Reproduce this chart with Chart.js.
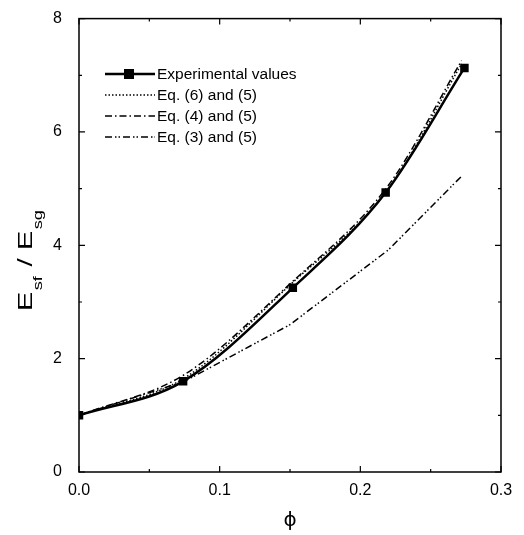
<!DOCTYPE html>
<html>
<head>
<meta charset="utf-8">
<script src="https://cdn.jsdelivr.net/npm/chart.js@4"></script>
<style>
  html, body { margin: 0; padding: 0; background: #fff; }
</style>
</head>
<body>
<canvas id="chart" width="524" height="535"></canvas>
<script>
// data
const phiExp = [0, 0.074, 0.152, 0.218, 0.274];
const expValues = [1.0, 1.6, 3.25, 4.93, 7.13];
const phiEq = [0, 0.075, 0.15, 0.22, 0.272];
const eq65Values = [1.0, 1.66, 3.3, 5.0, 7.2];
const eq45Values = [1.0, 1.72, 3.32, 5.06, 7.26];
const eq35Values = [1.0, 1.6, 2.6, 3.92, 5.22];
const xTicks = [0, 0.1, 0.2, 0.3];
const xMinorTicks = [0.05, 0.15, 0.25];
const yTicks = [0, 2, 4, 6, 8];
const yMinorTicks = [1, 3, 5, 7];
const legendLabels = ["Experimental values", "Eq. (6) and (5)", "Eq. (4) and (5)", "Eq. (3) and (5)"];

const FONT = "'Liberation Sans', Arial, Helvetica, sans-serif";

function points(xs, ys) {
  return xs.map((x, i) => ({ x: x, y: ys[i] }));
}

// frame, inward ticks, legend and axis titles
const decorations = {
  id: "decorations",
  afterDraw(chart) {
    const ctx = chart.ctx;
    const a = chart.chartArea;
    const xs = chart.scales.x, ys = chart.scales.y;
    ctx.save();
    ctx.strokeStyle = "#000";
    ctx.lineWidth = 1.5;
    ctx.strokeRect(a.left, a.top, a.right - a.left, a.bottom - a.top);

    ctx.lineWidth = 1.2;
    ctx.beginPath();
    const tickX = (v, len) => {
      const px = xs.getPixelForValue(v);
      ctx.moveTo(px, a.bottom); ctx.lineTo(px, a.bottom - len);
      ctx.moveTo(px, a.top); ctx.lineTo(px, a.top + len);
    };
    const tickY = (v, len) => {
      const py = ys.getPixelForValue(v);
      ctx.moveTo(a.left, py); ctx.lineTo(a.left + len, py);
      ctx.moveTo(a.right, py); ctx.lineTo(a.right - len, py);
    };
    xTicks.forEach(v => tickX(v, 6));
    xMinorTicks.forEach(v => tickX(v, 3));
    yTicks.forEach(v => tickY(v, 6));
    yMinorTicks.forEach(v => tickY(v, 3));
    ctx.stroke();

    // legend
    const lx0 = 105, lx1 = 155, ly0 = 74, dy = 21;
    chart.data.datasets.forEach((ds, i) => {
      const y = ly0 + i * dy;
      ctx.strokeStyle = "#000";
      ctx.lineWidth = ds.borderWidth;
      ctx.setLineDash(ds.borderDash || []);
      ctx.beginPath();
      ctx.moveTo(lx0, y); ctx.lineTo(lx1, y);
      ctx.stroke();
      ctx.setLineDash([]);
      if (ds.pointRadius > 0) {
        ctx.fillStyle = "#000";
        const r = ds.pointRadius - 1;
        ctx.fillRect(129 - r, y - r, 2 * r, 2 * r);
      }
      ctx.fillStyle = "#000";
      ctx.font = "15.5px " + FONT;
      ctx.textAlign = "left";
      ctx.textBaseline = "middle";
      ctx.fillText(legendLabels[i], lx1 + 2, y + 1);
    });

    // x title
    ctx.font = "20px 'DejaVu Sans', " + FONT;
    ctx.textAlign = "center";
    ctx.textBaseline = "middle";
    ctx.fillText("\u03D5", (a.left + a.right) / 2, 521);

    // y title with subscripts (stretched like the original lettering)
    const parts = [["E", 21, 0], ["sf", 13, 10], [" / E", 21, 0], ["sg", 13, 10]];
    const stretch = 1.4;
    let total = 0;
    parts.forEach(p => { ctx.font = p[1] + "px " + FONT; total += ctx.measureText(p[0]).width + (p[1] < 20 ? 2 : 0); });
    ctx.translate(32, 260);
    ctx.rotate(-Math.PI / 2);
    ctx.scale(stretch, 1);
    ctx.textAlign = "left";
    ctx.textBaseline = "alphabetic";
    let cx = -total / 2;
    parts.forEach(p => {
      ctx.font = p[1] + "px " + FONT;
      ctx.fillText(p[0], cx + (p[1] < 20 ? 1 : 0), p[2]);
      cx += ctx.measureText(p[0]).width + (p[1] < 20 ? 2 : 0);
    });
    ctx.restore();
  }
};

new Chart(document.getElementById("chart"), {
  type: "line",
  data: {
    datasets: [
      {
        data: points(phiExp, expValues),
        borderColor: "#000", backgroundColor: "#000",
        borderWidth: 2.5, cubicInterpolationMode: "monotone",
        pointStyle: "rect", pointRadius: 6, pointBackgroundColor: "#000", pointBorderWidth: 0
      },
      {
        data: points(phiEq, eq65Values),
        borderColor: "#000", borderWidth: 1.5, borderDash: [1.5, 2],
        cubicInterpolationMode: "monotone", pointRadius: 0
      },
      {
        data: points(phiEq, eq45Values),
        borderColor: "#000", borderWidth: 1.5, borderDash: [7, 3, 1.5, 3],
        cubicInterpolationMode: "monotone", pointRadius: 0
      },
      {
        data: points(phiEq, eq35Values),
        borderColor: "#000", borderWidth: 1.5, borderDash: [7, 3, 1.5, 2, 1.5, 3],
        tension: 0, pointRadius: 0
      }
    ]
  },
  options: {
    responsive: false,
    animation: false,
    layout: { padding: { top: 15, right: 23, left: 0, bottom: 0 } },
    plugins: { legend: { display: false }, tooltip: { enabled: false } },
    scales: {
      x: {
        type: "linear", min: 0, max: 0.3,
        afterBuildTicks: s => { s.ticks = xTicks.map(v => ({ value: v })); },
        afterFit: s => { s.height = 63; },
        grid: { display: false },
        border: { display: false },
        ticks: {
          color: "#000", padding: 1, maxRotation: 0,
          font: { size: 16, family: FONT },
          callback: v => v.toFixed(1)
        }
      },
      y: {
        type: "linear", min: 0, max: 8,
        afterBuildTicks: s => { s.ticks = yTicks.map(v => ({ value: v })); },
        afterFit: s => { s.width = 79; },
        grid: { display: false },
        border: { display: false },
        ticks: {
          color: "#000", padding: 9,
          font: { size: 16, family: FONT },
          callback: v => String(v)
        }
      }
    }
  },
  plugins: [decorations]
});
</script>
</body>
</html>
